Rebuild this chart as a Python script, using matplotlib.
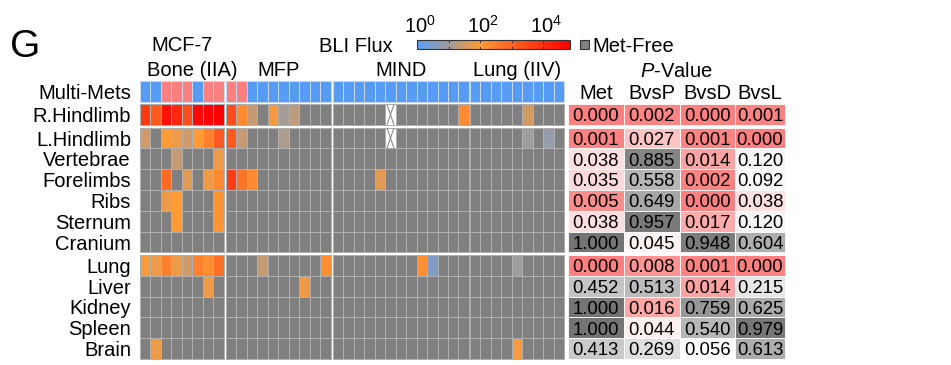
import numpy as np
import matplotlib
matplotlib.use("Agg")
from matplotlib import pyplot as plt
from matplotlib.colors import LinearSegmentedColormap, to_rgb
from matplotlib.patches import Rectangle

plt.rcParams['font.family'] = ['Liberation Sans', 'DejaVu Sans']
plt.rcParams['mathtext.fontset'] = 'custom'
plt.rcParams['mathtext.rm'] = 'Liberation Sans'
plt.rcParams['mathtext.it'] = 'Liberation Sans:italic'

N = np.nan
X = -1  # not imaged

organs = ["R.Hindlimb", "L.Hindlimb", "Vertebrae", "Forelimbs", "Ribs", "Sternum",
          "Cranium", "Lung", "Liver", "Kidney", "Spleen", "Brain"]
groups = ["Bone (IIA)", "MFP", "MIND", "Lung (IIV)"]

# multi-organ metastasis flag per mouse
multi_bone = [0, 0, 1, 1, 1, 0, 1, 1]
multi_mfp = [1, 1, 0, 0, 0, 0, 0, 0, 0, 0]
multi_mind = [0] * 13
multi_lung = [0] * 9

# log10 BLI flux per organ (rows) and mouse (columns), nan = met-free
bone = [
    [3.8, 3.2, 4.55, 4.1, 3.4, 4.7, 4.85, 4.85],
    [1.5, N, 2.0, 1.8, 1.5, 2.0, 2.45, 3.2],
    [N, N, N, 1.4, N, N, N, 1.8],
    [N, N, 2.9, N, 1.7, N, 1.8, 2.3],
    [N, N, 1.8, 2.0, N, N, N, 2.1],
    [N, N, N, 2.0, N, N, N, 2.1],
    [N] * 8,
    [1.95, 1.8, 2.45, 1.8, 1.5, 2.45, 2.2, 2.8],
    [N, N, N, N, N, N, 1.8, N],
    [N] * 8,
    [N] * 8,
    [N, 1.8, N, N, N, N, N, N],
]
mfp = [
    [3.4, 2.3, 1.4, N, 1.9, 1.05, 1.3, N, N, N],
    [3.2, 1.4, N, N, N, 1.15, N, N, N, N],
    [N] * 10,
    [3.7, 2.7, 2.3, N, N, N, N, N, N, N],
    [N] * 10,
    [N] * 10,
    [N] * 10,
    [N, N, N, 1.4, N, N, N, N, N, 2.2],
    [N, N, N, N, N, N, N, 1.85, N, N],
    [N] * 10,
    [N] * 10,
    [N] * 10,
]
mind = [
    [N, N, N, N, N, X, N, N, N, N, N, N, 2.3],
    [N, N, N, N, N, X, N, N, N, N, N, N, N],
    [N] * 13,
    [N, N, N, N, 1.7, N, N, N, N, N, N, N, N],
    [N] * 13,
    [N] * 13,
    [N] * 13,
    [N, N, N, N, N, N, N, N, 2.2, 0.55, N, N, N],
    [N] * 13,
    [N] * 13,
    [N] * 13,
    [N] * 13,
]
lung = [
    [N, N, N, N, N, 1.55, N, N, N],
    [N, N, N, N, N, 1.0, N, 0.85, N],
    [N] * 9,
    [N] * 9,
    [N] * 9,
    [N] * 9,
    [N] * 9,
    [N, N, N, N, 1.0, N, N, N, N],
    [N] * 9,
    [N] * 9,
    [N] * 9,
    [N, N, N, N, 1.9, N, N, N, N],
]

p_cols = ["Met", "BvsP", "BvsD", "BvsL"]
p_met = [0.000, 0.001, 0.038, 0.035, 0.005, 0.038, 1.000, 0.000, 0.452, 1.000, 1.000, 0.413]
p_bvsp = [0.002, 0.027, 0.885, 0.558, 0.649, 0.957, 0.045, 0.008, 0.513, 0.016, 0.044, 0.269]
p_bvsd = [0.000, 0.001, 0.014, 0.002, 0.000, 0.017, 0.948, 0.001, 0.014, 0.759, 0.540, 0.056]
p_bvsl = [0.001, 0.000, 0.120, 0.092, 0.038, 0.120, 0.604, 0.000, 0.215, 0.625, 0.979, 0.613]

# ---- layout (pixels) ----
VMAX = 4.85
cw, rh = 10.45, 20.8
gx0 = [140, 226, 333, 470]
multi_y0 = 81
blocks = [(104.2, 0, 1), (127.6, 1, 7), (255, 7, 12)]
tx = [568, 623.5, 679.5, 735, 785]
FS = 14.5

cmap = LinearSegmentedColormap.from_list(
    "bli", [(0, "#5a9ff5"), (1 / VMAX, "#a09c9c"), (2 / VMAX, "#ff9a35"), (1, "#ff0000")])
cmap.set_bad("#808080")
mm_cmap = LinearSegmentedColormap.from_list("mm", ["#569cf5", "#fd8080"])

fig = plt.figure(figsize=(9.51, 3.65), dpi=100)
ax = fig.add_axes([0, 0, 1, 1])
ax.set_xlim(0, 951)
ax.set_ylim(365, 0)
ax.axis("off")

data = [bone, mfp, mind, lung]
multi = [multi_bone, multi_mfp, multi_mind, multi_lung]

for g in range(4):
    vals = np.array(data[g], dtype=float)
    ncol = vals.shape[1]
    xe = gx0[g] + cw * np.arange(ncol + 1)
    # multi-mets row
    ye = multi_y0 + rh * np.arange(2)
    ax.pcolormesh(xe, ye, np.array([multi[g]]), cmap=mm_cmap, vmin=0, vmax=1,
                  edgecolors="#c8d8f0", linewidth=0.5)
    for y0, r0, r1 in blocks:
        sub = vals[r0:r1]
        ye = y0 + rh * np.arange(r1 - r0 + 1)
        ax.pcolormesh(xe, ye, np.ma.masked_invalid(np.where(sub == X, np.nan, sub)),
                      cmap=cmap, vmin=0, vmax=VMAX, edgecolors="#aeaeae", linewidth=0.7)
        for i, j in zip(*np.where(sub == X)):
            x0, x1 = xe[j], xe[j + 1]
            ya, yb = ye[i], ye[i + 1]
            ax.add_patch(Rectangle((x0, ya), cw, rh, facecolor="white", edgecolor="#aeaeae", lw=0.7))
            ax.plot([x0 + 2, x1 - 2], [ya + 1, yb - 1], color="#8a8a8a", lw=0.8)
            ax.plot([x0 + 2, x1 - 2], [yb - 1, ya + 1], color="#8a8a8a", lw=0.8)

# row labels
ax.text(131, multi_y0 + rh / 2 + 7.5, "Multi-Mets", ha="right", va="baseline", fontsize=FS)
for y0, r0, r1 in blocks:
    for k in range(r0, r1):
        yc = y0 + rh * (k - r0) + rh / 2
        ax.text(131, yc + 7.5, organs[k], ha="right", va="baseline", fontsize=FS)

# group headers
ax.text(182, 51, "MCF-7", ha="center", va="baseline", fontsize=FS)
ax.text(147, 76, groups[0], ha="left", va="baseline", fontsize=FS)
for g in range(1, 4):
    ncol = len(data[g][0])
    ax.text(gx0[g] + cw * ncol / 2, 76, groups[g], ha="center", va="baseline", fontsize=FS)

# colorbar
grad = np.linspace(0, VMAX, 256)[None, :]
ax.imshow(grad, cmap=cmap, vmin=0, vmax=VMAX, extent=[417, 570, 49, 40], aspect="auto")
ax.add_patch(Rectangle((417, 40), 153, 9, facecolor="none", edgecolor="#333333", lw=0.8))
sc = 153 / VMAX
for d in range(1, 5):
    ax.plot([417 + d * sc] * 2, [40, 42], color="#333333", lw=0.7)
    ax.plot([417 + d * sc] * 2, [47, 49], color="#333333", lw=0.7)
for d in (0, 2, 4):
    ax.text(417 + d * sc + 3, 33, r"$\mathregular{10^{%d}}$" % d, ha="center", va="baseline", fontsize=FS)
ax.text(393, 52, "BLI Flux", ha="right", va="baseline", fontsize=FS)
ax.add_patch(Rectangle((580, 40), 9, 9, facecolor="#808080", edgecolor="#333333", lw=0.8))
ax.text(592, 52, "Met-Free", ha="left", va="baseline", fontsize=FS)

ax.text(10, 57, "G", ha="left", va="baseline", fontsize=28)


# p-value table
def p_color(p):
    if p < 0.05:
        t = p / 0.05
        c0 = np.array(to_rgb("#fd7f7f"))
        return c0 + (1 - c0) * t
    t = (p - 0.05) / 0.95
    return np.array([1, 1, 1]) * (1 - t) + np.array(to_rgb("#747474")) * t


ax.text((tx[0] + tx[-1]) / 2, 77, r"$\it{P}$-Value", ha="center", va="baseline", fontsize=FS)
pvals = [p_met, p_bvsp, p_bvsd, p_bvsl]
for c in range(4):
    xc = (tx[c] + tx[c + 1]) / 2
    ax.text(xc, multi_y0 + rh / 2 + 7.5, p_cols[c], ha="center", va="baseline", fontsize=FS)
    for y0, r0, r1 in blocks:
        for k in range(r0, r1):
            ya = y0 + rh * (k - r0)
            ax.add_patch(Rectangle((tx[c], ya), tx[c + 1] - tx[c], rh,
                                   facecolor=p_color(pvals[c][k]), edgecolor="white", lw=0.6))
            ax.text(xc, ya + rh / 2 + 6.8, f"{pvals[c][k]:.3f}", ha="center", va="baseline",
                    fontsize=13.3)

plt.savefig("out.png", dpi=100)
